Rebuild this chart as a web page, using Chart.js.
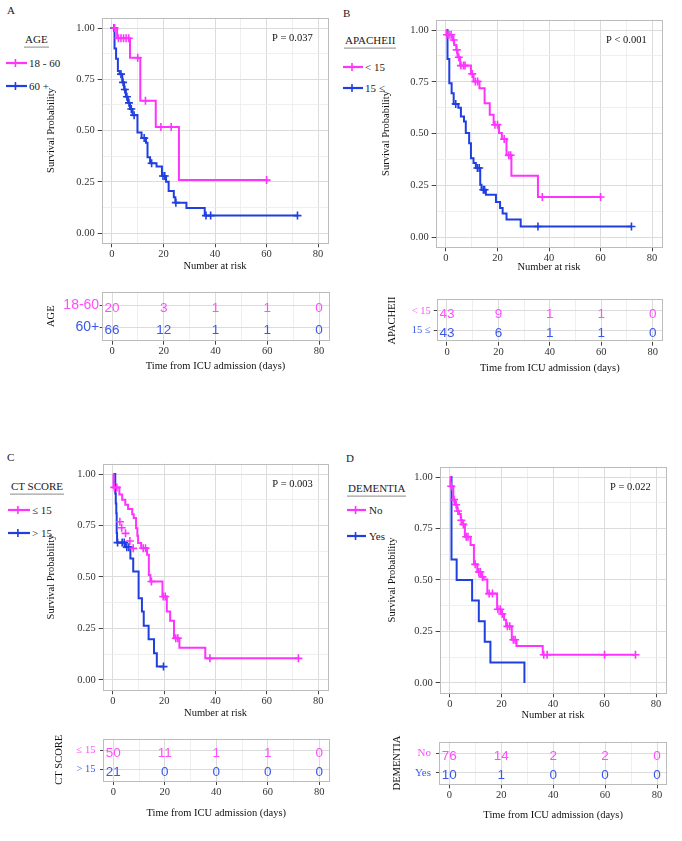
<!DOCTYPE html>
<html>
<head>
<meta charset="utf-8">
<script src="https://cdn.jsdelivr.net/npm/chart.js@4.4.0/dist/chart.umd.min.js"></script>
<style>
html, body { margin: 0; padding: 0; background: #fff; }
#fig { position: relative; width: 682px; height: 841px; overflow: hidden; background: #fff;
       font-family: 'Liberation Serif', 'Times New Roman', serif; color: #1a1a1a; }
#fig canvas { position: absolute; }
.txt { position: absolute; white-space: nowrap; font-size: 11px; line-height: 1; transform: translateY(-50%); }
.ttl { border-bottom: 1px solid #8a8a8a; padding: 0 1px 2px 1px; transform: translateY(-60%); }
.key { position: absolute; line-height: 0; transform: translateY(-50%); }
</style>
</head>
<body>
<div id="fig"></div>
<script>
// ---------------- data ----------------
const riskTimes = [0, 20, 40, 60, 80];
const xTickValues = [0, 10, 20, 30, 40, 50, 60, 70, 80];
const yTickValues = [0, 0.125, 0.25, 0.375, 0.5, 0.625, 0.75, 0.875, 1];

// A - AGE
const ageYoungTime = [0, 2, 7, 11, 17, 26, 60];
const ageYoungSurv = [1, 0.95, 0.855, 0.645, 0.517, 0.258, 0.258];
const ageYoungCensTime = [1, 2.5, 3.5, 4.5, 5.5, 6.5, 10, 13, 19, 23, 60];
const ageYoungCensSurv = [1, 0.95, 0.95, 0.95, 0.95, 0.95, 0.855, 0.645, 0.517, 0.517, 0.258];
const ageOldTime = [0, 1.0, 1.6, 2.3, 3.0, 4.0, 4.7, 5.4, 6.2, 7.0, 8.0, 9.9, 11.5, 13.2, 13.8, 14.8, 17.3, 19.4, 21.0, 22.0, 24.0, 24.6, 28.9, 36.0, 72];
const ageOldSurv = [1, 0.9, 0.85, 0.79, 0.775, 0.735, 0.70, 0.665, 0.635, 0.605, 0.575, 0.49, 0.463, 0.44, 0.37, 0.34, 0.325, 0.278, 0.25, 0.205, 0.175, 0.148, 0.122, 0.085, 0.085];
const ageOldCensTime = [0.8, 3.5, 4.3, 5.0, 5.8, 6.6, 7.5, 8.6, 12.5, 15.4, 19.8, 20.5, 24.8, 36.5, 38.3, 72];
const ageOldCensSurv = [1, 0.775, 0.735, 0.70, 0.665, 0.635, 0.605, 0.575, 0.463, 0.34, 0.278, 0.278, 0.148, 0.085, 0.085, 0.085];
const ageYoungRisk = [20, 3, 1, 1, 0];
const ageOldRisk = [66, 12, 1, 1, 0];

// B - APACHEII
const apLowTime = [0, 0.2, 2.6, 3.2, 4.0, 4.5, 5.5, 9.7, 10.7, 13, 15, 17, 18.5, 20.6, 21.7, 23.5, 25.4, 35.7, 60];
const apLowSurv = [1, 0.977, 0.952, 0.928, 0.904, 0.868, 0.828, 0.788, 0.751, 0.719, 0.646, 0.59, 0.542, 0.502, 0.473, 0.395, 0.296, 0.193, 0.193];
const apLowCensTime = [0.4, 1.2, 2.0, 3.0, 4.2, 5.0, 5.8, 6.8, 7.4, 10.2, 11.4, 12.3, 19.0, 20.0, 22.6, 24.4, 25.1, 37.4, 60];
const apLowCensSurv = [0.977, 0.977, 0.977, 0.952, 0.904, 0.868, 0.828, 0.828, 0.828, 0.788, 0.751, 0.751, 0.542, 0.542, 0.473, 0.395, 0.395, 0.193, 0.193];
const apHighTime = [0, 0.6, 1.3, 2.2, 3.0, 4.8, 5.8, 7.0, 7.7, 9.0, 9.7, 10.7, 11.6, 13.3, 13.8, 15.5, 19.4, 21, 22, 23.5, 29, 72];
const apHighSurv = [1, 0.86, 0.743, 0.695, 0.643, 0.625, 0.582, 0.558, 0.502, 0.453, 0.381, 0.357, 0.333, 0.252, 0.228, 0.204, 0.169, 0.14, 0.113, 0.084, 0.051, 0.051];
const apHighCensTime = [3.8, 12.2, 12.9, 14.5, 15.0, 35.7, 72];
const apHighCensSurv = [0.643, 0.333, 0.333, 0.228, 0.228, 0.051, 0.051];
const apLowRisk = [43, 9, 1, 1, 0];
const apHighRisk = [43, 6, 1, 1, 0];

// C - CT SCORE
const ctLowTime = [0, 0.2, 2.5, 3.6, 4.8, 5.9, 7.5, 8.1, 9.0, 9.5, 9.8, 11.0, 13.3, 14.0, 14.6, 19.3, 21.0, 22.3, 23.8, 25.9, 36.0, 72.3];
const ctLowSurv = [1, 0.935, 0.90, 0.875, 0.851, 0.83, 0.805, 0.786, 0.737, 0.70, 0.665, 0.64, 0.608, 0.51, 0.478, 0.405, 0.332, 0.288, 0.203, 0.157, 0.105, 0.105];
const ctLowCensTime = [0.5, 1.5, 2.7, 3.4, 4.9, 6.6, 7.9, 11.8, 12.7, 15.0, 19.6, 20.4, 24.5, 25.3, 37.8, 72.3];
const ctLowCensSurv = [0.935, 0.935, 0.768, 0.739, 0.712, 0.675, 0.639, 0.64, 0.64, 0.478, 0.405, 0.405, 0.203, 0.203, 0.105, 0.105];
const ctHighTime = [0, 0.9, 1.1, 1.3, 1.45, 1.6, 4.8, 6.8, 7.9, 10.0, 11.3, 12.0, 13.9, 16.0, 17.1, 19.7];
const ctHighSurv = [1, 0.905, 0.857, 0.81, 0.714, 0.667, 0.645, 0.59, 0.527, 0.397, 0.332, 0.263, 0.198, 0.13, 0.065, 0.065];
const ctHighCensTime = [1.8, 3.6, 4.4, 5.4, 6.2, 19.7];
const ctHighCensSurv = [0.667, 0.667, 0.667, 0.645, 0.645, 0.065];
const ctLowRisk = [50, 11, 1, 1, 0];
const ctHighRisk = [21, 0, 0, 0, 0];

// D - DEMENTIA
const demNoTime = [0, 0.2, 1.3, 2.0, 2.8, 3.5, 4.2, 4.8, 5.8, 8.0, 9.3, 10.6, 12.2, 13.0, 14.5, 18.3, 19.8, 21.0, 21.8, 24.0, 25.8, 36.0, 72];
const demNoSurv = [1, 0.955, 0.89, 0.865, 0.835, 0.82, 0.79, 0.77, 0.71, 0.67, 0.576, 0.539, 0.515, 0.502, 0.434, 0.358, 0.335, 0.307, 0.275, 0.21, 0.18, 0.137, 0.137];
const demNoCensTime = [0.5, 1.6, 2.4, 3.1, 4.4, 5.2, 6.3, 7.0, 9.8, 11.2, 11.8, 12.6, 15.2, 16.5, 18.6, 19.5, 20.3, 22.3, 23.2, 24.6, 25.3, 36.4, 37.7, 60, 72];
const demNoCensSurv = [0.955, 0.89, 0.865, 0.835, 0.79, 0.77, 0.71, 0.71, 0.576, 0.539, 0.539, 0.515, 0.434, 0.434, 0.358, 0.358, 0.335, 0.275, 0.275, 0.21, 0.21, 0.137, 0.137, 0.137, 0.137];
const demYesTime = [0, 0.6, 2.6, 8.6, 11.2, 13.5, 15.7, 28.9];
const demYesSurv = [1, 0.6, 0.5, 0.4, 0.3, 0.2, 0.1, 0];
const demYesCensTime = [];
const demYesCensSurv = [];
const demNoRisk = [76, 14, 2, 2, 0];
const demYesRisk = [10, 1, 0, 0, 0];

// ---------------- styling ----------------
const PINK = '#ff33ff';
const BLUE = '#1f3fe0';
const PINK_TXT = '#ff4dff';
const BLUE_TXT = '#3a58ea';
const GRID = '#dcdcdc';
const GRID_MINOR = '#ebebeb';
const SERIF = "'Liberation Serif', 'Times New Roman', serif";
const SANS = "'Liberation Sans', Arial, sans-serif";
const AXIS_FONT = 10.5;
const LH = AXIS_FONT * 1.2;

Chart.defaults.font.family = SERIF;

const pts = (xs, ys) => xs.map((x, i) => ({ x, y: ys[i] }));

// panel layout (page pixels measured on the reference)
const panels = [
    {
        letter: 'A', letterPos: [7, 10], pvalue: 'P = 0.037',
        legendTitle: 'AGE', titlePos: [24, 42], keyX: 6, keyW: 21, textX: 29, keyY: [63, 86],
        names: ['18 - 60', '60 +'], rowNames: ['18-60', '60+'],
        rowFont: { family: SANS, size: 14 }, rowTick: 2, rowPad: 0.5,
        km: { x0: 112, x80: 319, y1: 28, y0: 233, yTitleX: 51.5, xTitleY: 266 },
        tb: { x0: 112, x80: 319, top: 291.7, bottom: 340.7, yTitleX: 51, xTitleY: 366 },
        pink: [ageYoungTime, ageYoungSurv, ageYoungCensTime, ageYoungCensSurv, ageYoungRisk],
        blue: [ageOldTime, ageOldSurv, ageOldCensTime, ageOldCensSurv, ageOldRisk],
    },
    {
        letter: 'B', letterPos: [343, 12.5], pvalue: 'P < 0.001',
        legendTitle: 'APACHEII', titlePos: [344, 43], keyX: 343, keyW: 20, textX: 365, keyY: [66.5, 88],
        names: ['< 15', '15 ≤'], rowNames: ['< 15', '15 ≤'],
        rowFont: { family: SERIF, size: 10.5 }, rowTick: 3, rowPad: 3,
        km: { x0: 446, x80: 653, y1: 30, y0: 237, yTitleX: 386, xTitleY: 267.5 },
        tb: { x0: 447, x80: 652.7, top: 299.3, bottom: 341.7, yTitleX: 392, xTitleY: 368.7 },
        pink: [apLowTime, apLowSurv, apLowCensTime, apLowCensSurv, apLowRisk],
        blue: [apHighTime, apHighSurv, apHighCensTime, apHighCensSurv, apHighRisk],
    },
    {
        letter: 'C', letterPos: [7, 457], pvalue: 'P = 0.003',
        legendTitle: 'CT SCORE', titlePos: [10, 489], keyX: 8, keyW: 22, textX: 32, keyY: [510, 533],
        names: ['≤ 15', '> 15'], rowNames: ['≤ 15', '> 15'],
        rowFont: { family: SERIF, size: 10.5 }, rowTick: 3, rowPad: 4.5,
        km: { x0: 113, x80: 319, y1: 474, y0: 680, yTitleX: 51.5, xTitleY: 713 },
        tb: { x0: 113.3, x80: 319.3, top: 738.5, bottom: 781, yTitleX: 59, xTitleY: 813.3 },
        pink: [ctLowTime, ctLowSurv, ctLowCensTime, ctLowCensSurv, ctLowRisk],
        blue: [ctHighTime, ctHighSurv, ctHighCensTime, ctHighCensSurv, ctHighRisk],
    },
    {
        letter: 'D', letterPos: [346, 458], pvalue: 'P = 0.022',
        legendTitle: 'DEMENTIA', titlePos: [347, 490.5], keyX: 347, keyW: 19, textX: 369, keyY: [510, 535.5],
        names: ['No', 'Yes'], rowNames: ['No', 'Yes'],
        rowFont: { family: SERIF, size: 11 }, rowTick: 3, rowPad: 5,
        km: { x0: 450, x80: 657, y1: 477, y0: 683, yTitleX: 392, xTitleY: 715 },
        tb: { x0: 449.3, x80: 657, top: 741.7, bottom: 784.3, yTitleX: 397, xTitleY: 815 },
        pink: [demNoTime, demNoSurv, demNoCensTime, demNoCensSurv, demNoRisk],
        blue: [demYesTime, demYesSurv, demYesCensTime, demYesCensSurv, demYesRisk],
    },
];

// ---------------- plugins ----------------
const panelBorder = {
    id: 'panelBorder',
    beforeDatasetsDraw(chart) {
        const { ctx, chartArea: a } = chart;
        ctx.save();
        ctx.strokeStyle = '#bcbcbc';
        ctx.lineWidth = 1;
        ctx.strokeRect(Math.round(a.left) + 0.5, Math.round(a.top) + 0.5,
            Math.round(a.right - a.left) - 1, Math.round(a.bottom - a.top) - 1);
        ctx.restore();
    },
};

const pvalueText = {
    id: 'pvalueText',
    afterDatasetsDraw(chart, args, opts) {
        if (!opts.text) return;
        const { ctx, scales: { x, y } } = chart;
        ctx.save();
        ctx.font = `${AXIS_FONT}px ${SERIF}`;
        ctx.fillStyle = '#111';
        ctx.textAlign = 'center';
        ctx.textBaseline = 'middle';
        ctx.fillText(opts.text, x.getPixelForValue(opts.x), y.getPixelForValue(opts.y));
        ctx.restore();
    },
};

const riskText = {
    id: 'riskText',
    afterDatasetsDraw(chart) {
        const { ctx } = chart;
        ctx.save();
        ctx.font = `13.5px ${SANS}`;
        ctx.textAlign = 'center';
        ctx.textBaseline = 'middle';
        chart.data.datasets.forEach((ds, i) => {
            ctx.fillStyle = ds.textColor;
            chart.getDatasetMeta(i).data.forEach((pt, j) => {
                ctx.fillText(String(ds.counts[j]), pt.x, pt.y + 3);
            });
        });
        ctx.restore();
    },
};

// ---------------- helpers ----------------
const fig = document.getElementById('fig');

function place(text, x, y, cls) {
    const d = document.createElement('div');
    d.className = cls || 'txt';
    d.style.left = x + 'px';
    d.style.top = y + 'px';
    d.textContent = text;
    fig.appendChild(d);
    return d;
}

function placeKey(color, x, y, w) {
    const d = document.createElement('div');
    d.className = 'key';
    d.style.left = x + 'px';
    d.style.top = y + 'px';
    d.innerHTML = `<svg width="${w}" height="10" viewBox="0 0 ${w} 10">
        <line x1="0" y1="5" x2="${w}" y2="5" stroke="${color}" stroke-width="2.2"/>
        <line x1="${w * 0.45}" y1="1" x2="${w * 0.45}" y2="9" stroke="${color}" stroke-width="1.6"/></svg>`;
    fig.appendChild(d);
}

function xArea(x0, x80) {
    const u = (x80 - x0) / 80;
    return { left: x0 - 4 * u, right: x80 + 4 * u };
}

function frame(area, titleX, titleY, topRoom) {
    const left = titleX - LH / 2;
    const bottom = titleY + LH / 2;
    const cl = Math.floor(left);
    const ct = Math.floor(area.top - topRoom);
    const cr = Math.ceil(area.right + 4);
    const cb = Math.ceil(bottom);
    return {
        cl, ct, cw: cr - cl, ch: cb - ct,
        padding: { left: left - cl, top: area.top - ct, right: cr - area.right, bottom: cb - bottom },
        yWidth: area.left - left,
        xHeight: bottom - area.bottom,
    };
}

function makeCanvas(f) {
    const c = document.createElement('canvas');
    c.width = f.cw;
    c.height = f.ch;
    c.style.left = f.cl + 'px';
    c.style.top = f.ct + 'px';
    c.style.width = f.cw + 'px';
    c.style.height = f.ch + 'px';
    fig.appendChild(c);
    return c;
}

const isMajorX = (c) => c.tick && c.tick.value % 20 === 0;
const isMajorY = (c) => c.tick && Math.abs(c.tick.value * 4 - Math.round(c.tick.value * 4)) < 1e-9;

function xScale(title, height) {
    return {
        type: 'linear',
        min: -4,
        max: 84,
        afterBuildTicks: (s) => { s.ticks = xTickValues.map((v) => ({ value: v })); },
        afterFit: (s) => { s.height = height; },
        ticks: {
            autoSkip: false, maxRotation: 0, padding: 0.5, color: '#333',
            font: { family: SERIF, size: AXIS_FONT },
            callback: (v) => (v % 20 === 0 ? String(v) : ''),
        },
        grid: {
            color: (c) => (isMajorX(c) ? GRID : GRID_MINOR),
            lineWidth: (c) => (isMajorX(c) ? 1 : 0.8),
            tickLength: 4,
            tickColor: (c) => (isMajorX(c) ? '#444' : 'rgba(0,0,0,0)'),
        },
        border: { display: false },
        title: { display: true, text: title, padding: 0, color: '#111', font: { family: SERIF, size: AXIS_FONT } },
    };
}

// ---------------- build panels ----------------
panels.forEach((p) => {
    // letter + legend
    place(p.letter, p.letterPos[0], p.letterPos[1]);
    place(p.legendTitle, p.titlePos[0], p.titlePos[1], 'txt ttl');
    [PINK, BLUE].forEach((col, i) => {
        placeKey(col, p.keyX, p.keyY[i], p.keyW);
        place(p.names[i], p.textX, p.keyY[i]);
    });

    // Kaplan-Meier plot
    const k = p.km;
    const ka = xArea(k.x0, k.x80);
    const ky = (k.y0 - k.y1) * 0.05;
    ka.top = k.y1 - ky;
    ka.bottom = k.y0 + ky;
    const kf = frame(ka, k.yTitleX, k.xTitleY, 12);
    const [pt, ps, pct, pcs] = p.pink;
    const [bt, bs, bct, bcs] = p.blue;
    const censor = (data, color) => ({
        type: 'scatter', data, pointStyle: 'cross', pointRadius: 4, pointBorderWidth: 1.6,
        borderColor: color, backgroundColor: color, showLine: false,
    });
    const curve = (data, color) => ({
        type: 'line', data, stepped: true, borderColor: color, borderWidth: 2,
        pointRadius: 0, fill: false, tension: 0,
    });
    new Chart(makeCanvas(kf), {
        type: 'line',
        data: {
            datasets: [
                censor(pts(pct, pcs), PINK),
                curve(pts(pt, ps), PINK),
                censor(pts(bct, bcs), BLUE),
                curve(pts(bt, bs), BLUE),
            ],
        },
        options: {
            responsive: false,
            animation: false,
            events: [],
            devicePixelRatio: 1,
            layout: { padding: kf.padding },
            plugins: {
                legend: { display: false },
                tooltip: { enabled: false },
                pvalueText: { text: p.pvalue, x: 70, y: 0.95 },
            },
            scales: {
                x: xScale('Number at risk', kf.xHeight),
                y: {
                    type: 'linear',
                    min: -0.05,
                    max: 1.05,
                    afterBuildTicks: (s) => { s.ticks = yTickValues.map((v) => ({ value: v })); },
                    afterFit: (s) => { s.width = kf.yWidth; },
                    ticks: {
                        autoSkip: false, padding: 3, color: '#333',
                        font: { family: SERIF, size: AXIS_FONT },
                        callback: (v) => (Math.abs(v * 4 - Math.round(v * 4)) < 1e-9 ? v.toFixed(2) : ''),
                    },
                    grid: {
                        color: (c) => (isMajorY(c) ? GRID : GRID_MINOR),
                        lineWidth: (c) => (isMajorY(c) ? 1 : 0.8),
                        tickLength: 4,
                        tickColor: (c) => (isMajorY(c) ? '#444' : 'rgba(0,0,0,0)'),
                    },
                    border: { display: false },
                    title: { display: true, text: 'Survival Probability', padding: 0, color: '#111', font: { family: SERIF, size: AXIS_FONT } },
                },
            },
        },
        plugins: [panelBorder, pvalueText],
    });

    // risk table
    const t = p.tb;
    const ta = xArea(t.x0, t.x80);
    ta.top = t.top;
    ta.bottom = t.bottom;
    const tf = frame(ta, t.yTitleX, t.xTitleY, 20);
    new Chart(makeCanvas(tf), {
        type: 'scatter',
        data: {
            datasets: [
                { data: pts(riskTimes, riskTimes.map(() => 2)), counts: p.pink[4], textColor: PINK_TXT, pointRadius: 0 },
                { data: pts(riskTimes, riskTimes.map(() => 1)), counts: p.blue[4], textColor: BLUE_TXT, pointRadius: 0 },
            ],
        },
        options: {
            responsive: false,
            animation: false,
            events: [],
            devicePixelRatio: 1,
            layout: { padding: tf.padding },
            plugins: { legend: { display: false }, tooltip: { enabled: false } },
            scales: {
                x: xScale('Time from ICU admission (days)', tf.xHeight),
                y: {
                    type: 'linear',
                    min: 0.4,
                    max: 2.6,
                    afterBuildTicks: (s) => { s.ticks = [{ value: 1 }, { value: 2 }]; },
                    afterFit: (s) => { s.width = tf.yWidth; },
                    ticks: {
                        autoSkip: false, padding: p.rowPad,
                        font: p.rowFont,
                        color: (c) => (c.tick && c.tick.value === 2 ? PINK_TXT : BLUE_TXT),
                        callback: (v) => (v === 2 ? p.rowNames[0] : p.rowNames[1]),
                    },
                    grid: { color: GRID, tickLength: p.rowTick, tickColor: '#444' },
                    border: { display: false },
                    title: { display: true, text: p.legendTitle, padding: 0, color: '#111', font: { family: SERIF, size: AXIS_FONT } },
                },
            },
        },
        plugins: [panelBorder, riskText],
    });
});
</script>
</body>
</html>
